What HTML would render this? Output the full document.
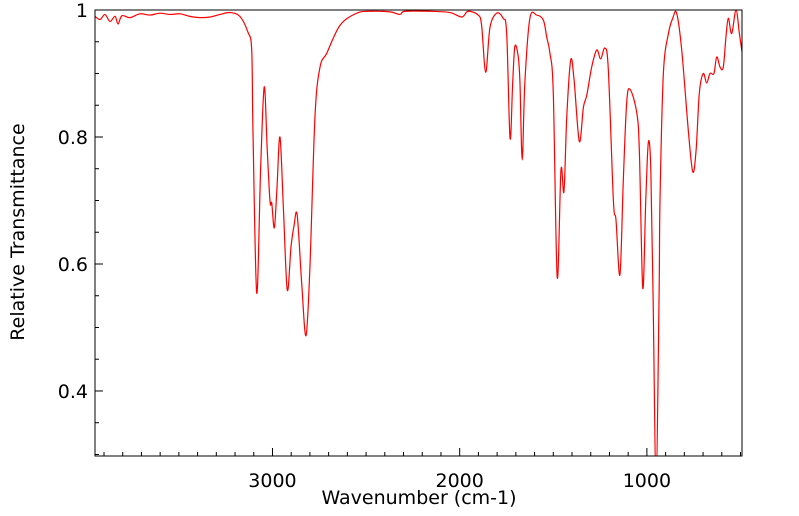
<!DOCTYPE html>
<html><head><meta charset="utf-8"><style>
html,body{margin:0;padding:0;background:#fff;}
svg{display:block;font-family:"DejaVu Sans","Liberation Sans",sans-serif;}
</style></head><body>
<svg id="chart" width="799" height="516" viewBox="0 0 799 516" xmlns="http://www.w3.org/2000/svg">
<defs><clipPath id="plotclip"><rect x="95" y="10" width="647" height="446"/></clipPath></defs>
<g id="axes"></g>
<g id="series" clip-path="url(#plotclip)"></g>
<rect x="95" y="10" width="647" height="446" fill="none" stroke="#000" stroke-width="1"/>
<text x="419" y="504" font-size="19" text-anchor="middle">Wavenumber (cm-1)</text>
<text transform="translate(24,232) rotate(-90)" font-size="19" text-anchor="middle">Relative Transmittance</text>
</svg>
<script>
const wavenumbers = [3948,3921,3895,3868,3841,3825,3804,3761,3708,3654,3601,3548,3494,3441,3387,3334,3280,3227,3174,3131,3111,3104,3084,3063,3044,3028,3013,3004,2990,2976,2960,2942,2921,2901,2885,2868,2844,2821,2800,2773,2746,2710,2639,2550,2479,2372,2319,2292,2158,2052,1989,1955,1901,1883,1861,1838,1802,1768,1749,1731,1717,1705,1687,1678,1666,1652,1625,1589,1553,1535,1518,1500,1479,1459,1443,1428,1407,1389,1361,1339,1321,1295,1268,1247,1224,1206,1179,1165,1144,1126,1108,1090,1054,1040,1022,1006,992,979,967,951,935,930,912,885,862,841,814,779,755,737,720,699,681,663,642,627,609,592,577,565,547,524,506,492];
const transmittance = [0.990,0.985,0.993,0.982,0.990,0.978,0.991,0.988,0.994,0.992,0.995,0.993,0.994,0.990,0.988,0.989,0.993,0.996,0.990,0.965,0.937,0.806,0.554,0.753,0.879,0.780,0.698,0.696,0.657,0.720,0.800,0.690,0.559,0.627,0.660,0.677,0.570,0.487,0.595,0.832,0.910,0.932,0.976,0.995,0.998,0.997,0.993,0.998,0.998,0.996,0.989,0.998,0.992,0.976,0.902,0.973,0.995,0.987,0.963,0.798,0.885,0.943,0.926,0.885,0.764,0.885,0.987,0.992,0.984,0.957,0.932,0.869,0.579,0.748,0.714,0.832,0.921,0.890,0.793,0.847,0.866,0.910,0.937,0.923,0.940,0.906,0.700,0.669,0.583,0.732,0.854,0.875,0.838,0.775,0.562,0.701,0.792,0.748,0.550,0.260,0.550,0.701,0.900,0.963,0.987,0.995,0.937,0.811,0.745,0.780,0.869,0.900,0.885,0.900,0.900,0.926,0.910,0.910,0.960,0.987,0.963,1.000,0.963,0.934];
const xMajorTicks = [3000,2000,1000];
const yMajorTicks = [0.4,0.6,0.8,1];
const yTickLabels = ["0.4","0.6","0.8","1"];

const L=95,R=742,T=10,B=456;
const xMax=3948,xMin=492,yMin=0.2976,yMax=1;
const xs=w=>L+(xMax-w)/(xMax-xMin)*(R-L);
const ys=v=>B-(v-yMin)/(yMax-yMin)*(B-T);
const NS="http://www.w3.org/2000/svg";
const axes=document.getElementById('axes');
function mk(tag,attrs,parent){const e=document.createElementNS(NS,tag);for(const k in attrs)e.setAttribute(k,attrs[k]);parent.appendChild(e);return e;}

for(let w=3900;w>=500;w-=100){
  const major=w%1000===0;
  const t=mk('line',{x1:xs(w),x2:xs(w),y1:B,y2:B-(major?8:4),stroke:'#000','stroke-width':1},axes);
  
  
}
xMajorTicks.forEach(w=>{
  const t=mk('text',{x:xs(w),y:487,'font-size':19,'text-anchor':'middle'},axes);
  t.textContent=String(w);
  
  
});
for(let i=6;i<=20;i++){
  const v=i*0.05; if(v<yMin) continue;
  const major=i%4===0;
  const t=mk('line',{x1:L,x2:L+(major?8:4),y1:ys(v),y2:ys(v),stroke:'#000','stroke-width':1},axes);
  
  
}
yMajorTicks.forEach((v,i)=>{
  const t=mk('text',{x:88,y:ys(v)+7,'font-size':19,'text-anchor':'end'},axes);
  t.textContent=yTickLabels[i];
  
  
});
// smoothed series (Catmull-Rom)
const P=wavenumbers.map((w,i)=>[xs(w),ys(transmittance[i])]);
let d='M'+P[0][0].toFixed(2)+','+P[0][1].toFixed(2);
for(let i=0;i<P.length-1;i++){
  const p0=P[Math.max(0,i-1)],p1=P[i],p2=P[i+1],p3=P[Math.min(P.length-1,i+2)];
  const c1=[p1[0]+(p2[0]-p0[0])/6,p1[1]+(p2[1]-p0[1])/6];
  const c2=[p2[0]-(p3[0]-p1[0])/6,p2[1]-(p3[1]-p1[1])/6];
  d+='C'+c1[0].toFixed(2)+','+c1[1].toFixed(2)+' '+c2[0].toFixed(2)+','+c2[1].toFixed(2)+' '+p2[0].toFixed(2)+','+p2[1].toFixed(2);
}
const p=mk('path',{d:d,fill:'none',stroke:'#ff0000','stroke-width':1.2,'stroke-linejoin':'round'},document.getElementById('series'));


</script>
</body></html>
